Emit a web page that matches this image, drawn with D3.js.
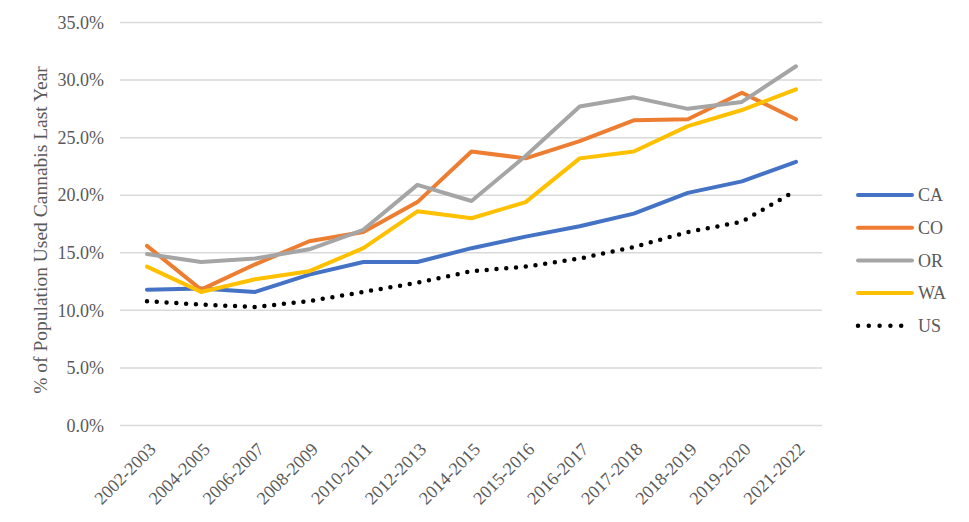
<!DOCTYPE html>
<html><head><meta charset="utf-8">
<script src="https://cdn.jsdelivr.net/npm/d3@7"></script>
<style>body{margin:0;background:#fff;}svg{display:block;}</style>
</head><body>
<svg id="chart" width="969" height="522"></svg>
<script>
const categories = ["2002-2003","2004-2005","2006-2007","2008-2009","2010-2011","2012-2013","2014-2015","2015-2016","2016-2017","2017-2018","2018-2019","2019-2020","2021-2022"];
const CA = [11.8,11.9,11.6,13.1,14.2,14.2,15.4,16.4,17.3,18.4,20.2,21.2,22.9];
const CO = [15.6,11.8,14.0,16.0,16.8,19.4,23.8,23.2,24.7,26.5,26.6,28.9,26.6];
const OR = [14.9,14.2,14.5,15.3,17.0,20.9,19.5,23.4,27.7,28.5,27.5,28.1,31.2];
const WA = [13.8,11.6,12.7,13.4,15.4,18.6,18.0,19.4,23.2,23.8,26.0,27.4,29.2];
const US = [10.8,10.5,10.3,10.8,11.6,12.4,13.4,13.8,14.5,15.5,16.8,17.7,20.4];
const yTicks = [0,5,10,15,20,25,30,35];
const seriesNames = ["CA","CO","OR","WA","US"];
const seriesValues = [CA,CO,OR,WA,US];
const colors = ["#4472C4","#ED7D31","#A5A5A5","#FFC000","#000000"];

const svg = d3.select("#chart");
const x = d3.scalePoint().domain(categories).range([147, 796]);
const y = d3.scaleLinear().domain([0,35]).range([425.5, 22.5]);
const font = "Liberation Serif";

// gridlines
svg.append("g").selectAll("line").data(yTicks).join("line")
  .attr("x1",120).attr("x2",822)
  .attr("y1",d=>y(d)).attr("y2",d=>y(d))
  .attr("stroke","#d9d9d9").attr("stroke-width",1.5);

// y axis labels
const yAxis = d3.axisLeft(y).tickValues(yTicks).tickFormat(d=>d.toFixed(1)+"%").tickSize(0).tickPadding(0);
const ya = svg.append("g").attr("transform","translate(104,0)").call(yAxis)
  .attr("font-family",font).attr("font-size",18);
ya.select(".domain").remove();
ya.selectAll("text").attr("fill","#595959");

// x axis labels
const xAxis = d3.axisBottom(x).tickSize(0).tickPadding(0);
const xa = svg.append("g").attr("transform","translate(0,436)").call(xAxis)
  .attr("font-family",font).attr("font-size",18);
xa.select(".domain").remove();
xa.selectAll("text").attr("fill","#595959")
  .attr("text-anchor","end").attr("dy","0.35em")
  .attr("transform","translate(5,10) rotate(-45)");

// y title
svg.append("text").attr("transform","translate(47,230) rotate(-90)")
  .attr("text-anchor","middle").attr("font-family",font).attr("font-size",19.5).attr("fill","#595959")
  .text("% of Population Used Cannabis Last Year");

// lines
const line = d3.line().x((d,i)=>x(categories[i])).y(d=>y(d));
seriesValues.forEach((vals,k)=>{
  const p = svg.append("path").datum(vals).attr("d",line).attr("fill","none")
    .attr("stroke",colors[k]).attr("stroke-linejoin","round");
  if (seriesNames[k]==="US") {
    p.attr("stroke-width",4.5).attr("stroke-dasharray","0,9.8").attr("stroke-linecap","round");
  } else {
    p.attr("stroke-width",4).attr("stroke-linecap","round");
  }
});

// legend
const lg = svg.append("g");
seriesNames.forEach((n,k)=>{
  const yy = 195 + k*32.7;
  const l = lg.append("line").attr("x1",858).attr("x2",912).attr("y1",yy).attr("y2",yy)
    .attr("stroke",colors[k]).attr("stroke-linecap","round");
  if (n==="US") l.attr("stroke-width",4.5).attr("stroke-dasharray","0,10.8");
  else l.attr("stroke-width",4);
  lg.append("text").attr("x",918).attr("y",yy).attr("dy","0.35em")
    .attr("font-family",font).attr("font-size",18).attr("fill","#595959").text(n);
});
</script>
</body></html>
